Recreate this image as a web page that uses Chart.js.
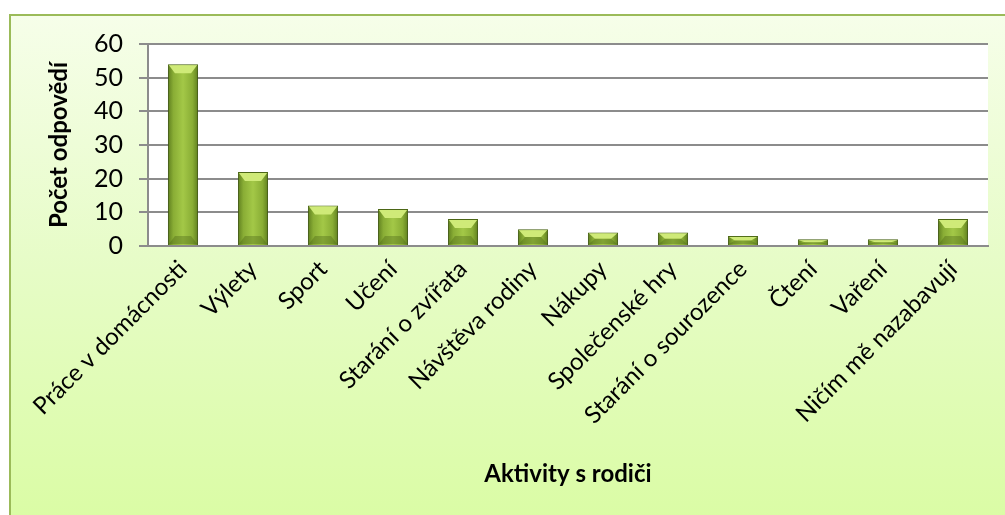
<!DOCTYPE html>
<html>
<head>
<meta charset="utf-8">
<script src="https://cdn.jsdelivr.net/npm/chart.js@4/dist/chart.umd.min.js"></script>
<style>
  html, body { margin: 0; padding: 0; background: #ffffff; }
  #ramecek {
    position: absolute; left: 9px; top: 14px; width: 1000px; height: 510px;
    border-top: 2px solid #9bbb59; border-left: 2px solid #9bbb59;
    background: linear-gradient(to bottom, #f6fee9 0%, #e6fcc6 50%, #dafca4 100%);
  }
  #graf { position: absolute; left: 0; top: 0; }
</style>
</head>
<body>
<div id="ramecek"></div>
<canvas id="graf" width="1005" height="515"></canvas>
<script>
var aktivity = ["Práce v domácnosti", "Výlety", "Sport", "Učení", "Starání o zvířata",
    "Návštěva rodiny", "Nákupy", "Společenské hry", "Starání o sourozence", "Čtení",
    "Vaření", "Ničím mě nazabavují"];
var pocty = [54, 22, 12, 11, 8, 5, 4, 4, 3, 2, 2, 8];
var osaY = [0, 10, 20, 30, 40, 50, 60];

var pismo = "Lato, 'Open Sans', sans-serif";
var sirkaSloupce = 0.43;

// bila plocha grafu
var bilePozadi = {
    id: "bilePozadi",
    beforeDraw: function(chart) {
        var a = chart.chartArea;
        var c = chart.ctx;
        c.save();
        c.fillStyle = "#ffffff";
        c.fillRect(a.left, a.top, a.right - a.left, a.bottom - a.top);
        c.restore();
    }
};

// vodorovny prechod pro kazdy sloupec zvlast
function barvaSloupce(ctx) {
    var chart = ctx.chart;
    var sx = chart.scales.x;
    if (!sx || !chart.chartArea) return "#90b43c";
    var stred = sx.getPixelForValue(ctx.dataIndex);
    var w = sx.width / aktivity.length * sirkaSloupce;
    var l = stred - w / 2;
    var g = chart.ctx.createLinearGradient(l, 0, l + w, 0);
    g.addColorStop(0, "#5f7f1f");
    g.addColorStop(0.18, "#89ad35");
    g.addColorStop(0.5, "#a3c847");
    g.addColorStop(0.82, "#89ad35");
    g.addColorStop(1, "#5f7f1f");
    return g;
}

// stin a zkoseni sloupcu
var sloupce = {
    id: "sloupce",
    beforeDatasetsDraw: function(chart) {
        var c = chart.ctx;
        c.save();
        c.shadowColor = "rgba(0,0,0,0.35)";
        c.shadowBlur = 6;
        c.shadowOffsetY = 3;
    },
    afterDatasetsDraw: function(chart) {
        var c = chart.ctx;
        c.restore();
        chart.getDatasetMeta(0).data.forEach(function(el) {
            var l = el.x - el.width / 2 + 1;
            var r = el.x + el.width / 2 - 1;
            var t = el.y + 1;
            var b = el.base - 1;
            var h = Math.min(8, (b - t) / 2);
            c.save();
            c.fillStyle = "#cfea78";
            c.beginPath();
            c.moveTo(l, t);
            c.lineTo(r, t);
            c.lineTo(r - 6, t + h);
            c.lineTo(l + 6, t + h);
            c.closePath();
            c.fill();
            c.fillStyle = "rgba(70,95,20,0.35)";
            c.beginPath();
            c.moveTo(l, b);
            c.lineTo(r, b);
            c.lineTo(r - 6, b - h);
            c.lineTo(l + 6, b - h);
            c.closePath();
            c.fill();
            c.restore();
        });
    }
};

new Chart(document.getElementById("graf"), {
    type: "bar",
    data: {
        labels: aktivity,
        datasets: [{
            data: pocty,
            backgroundColor: barvaSloupce,
            borderColor: "#4f6b17",
            borderWidth: 1,
            categoryPercentage: 1,
            barPercentage: sirkaSloupce
        }]
    },
    plugins: [bilePozadi, sloupce],
    options: {
        responsive: false,
        animation: false,
        layout: { padding: { left: 40, top: 44, right: 17, bottom: 24 } },
        plugins: { legend: { display: false }, tooltip: { enabled: false } },
        scales: {
            x: {
                afterFit: function(s) { s.height = 245; },
                grid: { display: false },
                border: { color: "#8c8c8c", width: 2 },
                ticks: {
                    autoSkip: false, maxRotation: 45, minRotation: 45,
                    color: "#000000", padding: 1,
                    font: { family: pismo, size: 24 }
                },
                title: {
                    display: true, text: "Aktivity s rodiči", color: "#000000",
                    padding: { top: 4, bottom: 2 },
                    font: { family: pismo, size: 24, weight: "bold" }
                }
            },
            y: {
                min: 0, max: 60,
                afterFit: function(s) { s.width = 108; },
                afterBuildTicks: function(s) {
                    s.ticks = osaY.map(function(v) { return { value: v }; });
                },
                grid: { color: "#8c8c8c", lineWidth: 2, tickLength: 9 },
                border: { color: "#8c8c8c", width: 2 },
                ticks: {
                    color: "#000000", padding: 16,
                    font: { family: pismo, size: 25 }
                },
                title: {
                    display: true, text: "Počet odpovědí", color: "#000000",
                    padding: { top: 5, bottom: 0 },
                    font: { family: pismo, size: 24, weight: "bold" }
                }
            }
        }
    }
});
</script>
</body>
</html>
